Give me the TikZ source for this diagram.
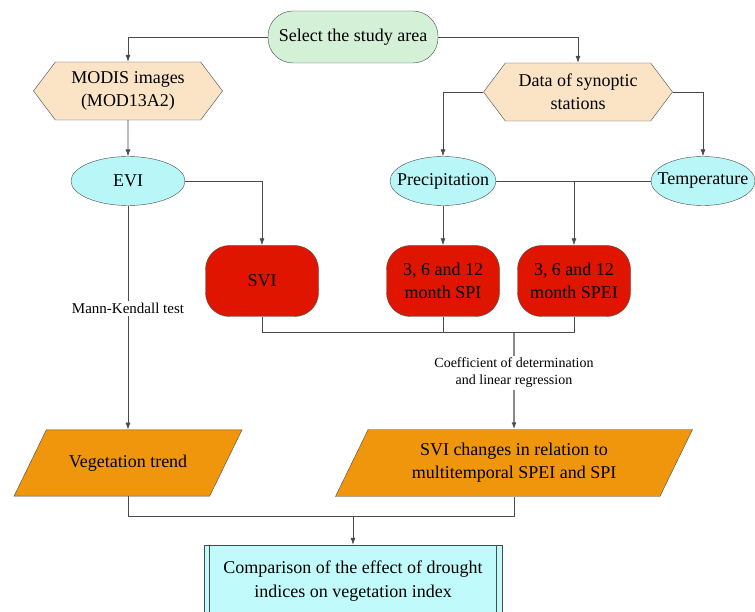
\documentclass[tikz,border=0pt]{standalone}
\usepackage{fontspec}
\setmainfont{Liberation Serif}
\usetikzlibrary{positioning,shapes.geometric,shapes.symbols,arrows.meta}

\definecolor{startgreen}{HTML}{D4F0D6}
\definecolor{datapeach}{HTML}{FBE3C6}
\definecolor{varcyan}{HTML}{B9F6F7}
\definecolor{idxred}{HTML}{E01500}
\definecolor{outorange}{HTML}{F0960C}
\definecolor{endcyan}{HTML}{C0FAFA}
\definecolor{edgegray}{HTML}{4A4A4A}

\begin{document}
\begin{tikzpicture}[x=1pt,y=-1pt,node distance=10pt,on grid,
	>={Latex[length=7pt,width=5pt]},
	line/.style={draw=edgegray,line width=0.7pt},
	start/.style={draw=edgegray,fill=startgreen,rounded corners=25pt,minimum width=170pt,minimum height=52pt,font=\fontsize{18}{23}\selectfont},
	hexa/.style={signal,signal to=west and east,signal pointer angle=106,draw=edgegray,fill=datapeach,minimum width=189pt,minimum height=58pt,inner sep=1pt,align=center,font=\fontsize{18}{23}\selectfont},
	var/.style={ellipse,draw=edgegray,fill=varcyan,minimum height=49pt,inner xsep=-16pt,inner ysep=0pt,font=\fontsize{18}{23}\selectfont},
	idx/.style={rectangle,rounded corners=24pt,draw=edgegray,fill=idxred,minimum width=113pt,minimum height=71pt,inner sep=2pt,align=center,font=\fontsize{18}{23}\selectfont},
	outbox/.style={trapezium,trapezium left angle=64,trapezium right angle=116,trapezium stretches body=true,draw=edgegray,fill=outorange,inner xsep=1pt,align=center,font=\fontsize{18}{23}\selectfont},
	endbox/.style={rectangle,draw=edgegray,fill=endcyan,minimum width=298pt,minimum height=72pt,align=center,font=\fontsize{18}{24}\selectfont},
	lbl/.style={fill=white,align=center,inner sep=2pt,font=\fontsize{14}{17}\selectfont}]
	\useasboundingbox (0,0) rectangle (755,612);

	\node[start] (study) at (353,37) {Select the study area};
	\node[hexa] (modis) [below left=54pt and 225pt of study] {MODIS images\\(MOD13A2)};
	\node[hexa] (synop) [below right=55pt and 225pt of study] {Data of synoptic\\stations};
	\node[var,minimum width=114pt] (evi) [below=90pt of modis] {EVI};
	\node[var,minimum width=106pt] (precip) [below left=89pt and 135pt of synop] {Precipitation};
	\node[var,minimum width=104pt] (temp) [below right=89pt and 125pt of synop] {Temperature};
	\node[idx] (svi) [below right=100pt and 134pt of evi] {SVI};
	\node[idx] (spi) [below=100pt of precip] {3, 6 and 12\\month SPI};
	\node[idx] (spei) [right=131pt of spi] {3, 6 and 12\\month SPEI};
	\node[outbox,minimum width=228pt,inner ysep=25pt] (veg) [below=282pt of evi] {Vegetation trend};
	\node[outbox,minimum width=357pt,inner ysep=13.8pt] (chg) [right=386pt of veg] {SVI changes in relation to\\multitemporal SPEI and SPI};
	\node[endbox] (final) at (353,581) {Comparison of the effect of drought\\indices on vegetation index};
	\node[lbl] (coef) [above=90pt of chg] {Coefficient of determination\\and linear regression};

	% top part
	\draw[line,->] (study.west) -| (modis.north);
	\draw[line,->] (study.east) -| (synop.north);
	\draw[line,->] (modis) -- (evi);
	\draw[line,->] (synop.west) -| (precip.north);
	\draw[line,->] (synop.east) -| (temp.north);

	% indices
	\draw[line,->] (evi.east) -| (svi.north);
	\draw[line,->] (precip) -- (spi);
	\draw[line] (precip.east) -- (temp.west);
	\coordinate (tj) at (spei.north |- precip.east);
	\draw[line,->] (tj) -- (spei.north);

	% regression
	\draw[line] (svi.south) -- ++(0,16) coordinate (mj) -| (spei.south);
	\draw[line] (spi.south) -- (spi.south |- mj);
	\draw[line,line width=1.4pt] (chg.north |- mj) -- (coef.north);
	\draw[line,line width=1.4pt,->] (coef.south) -- (chg.north);
	\draw[line,->] (evi) -- node[lbl,pos=0.46,font=\fontsize{15}{17}\selectfont] {Mann-Kendall test} (veg);

	% comparison
	\draw[line] (veg.south) -- ++(0,20) coordinate (bj) -| (chg.south);
	\draw[line,->] (final.north |- bj) -- (final.north);
	\draw[line] ([xshift=6pt]final.north west) -- ([xshift=6pt]final.south west);
	\draw[line] ([xshift=-6pt]final.north east) -- ([xshift=-6pt]final.south east);
\end{tikzpicture}
\end{document}
